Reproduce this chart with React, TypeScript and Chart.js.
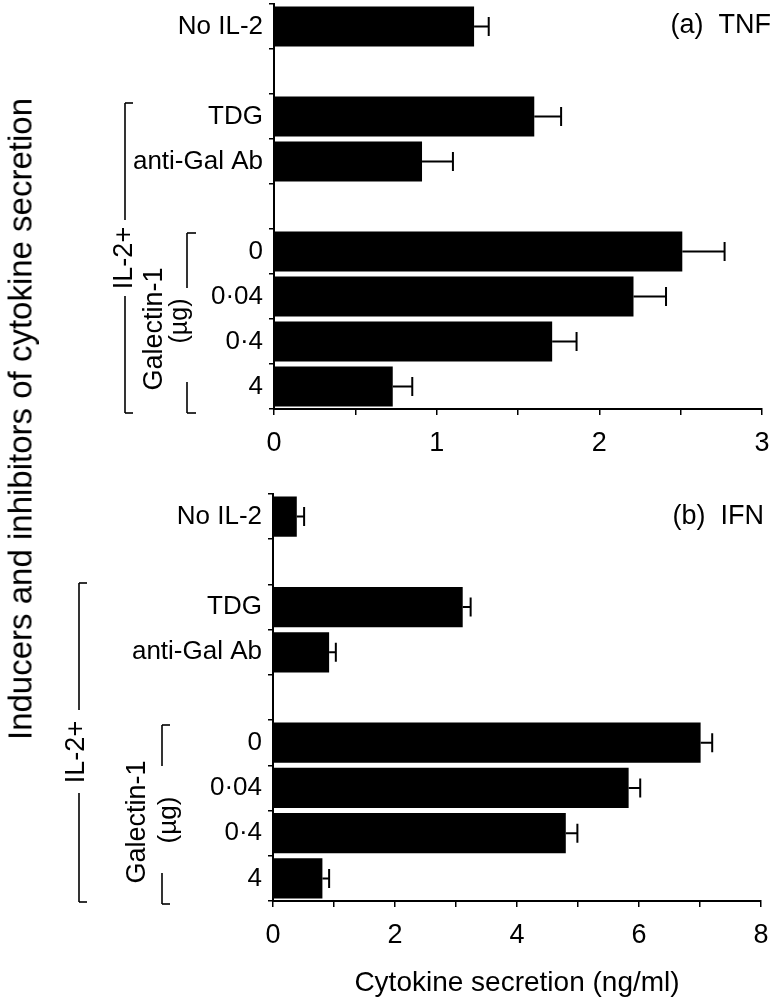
import React, { useEffect, useRef } from "react";
import { Chart, registerables } from "chart.js";

Chart.register(...registerables);

const FONT = "'Liberation Sans', Arial, Helvetica, sans-serif";

// ---- data ----
const categories = ["No IL-2", "", "TDG", "anti-Gal Ab", "", "0", "0·04", "0·4", "4"];
const tnfValues = [1.23, null, 1.6, 0.91, null, 2.51, 2.21, 1.71, 0.73];
const tnfErrors = [0.09, null, 0.165, 0.19, null, 0.26, 0.2, 0.15, 0.12];
const ifnValues = [0.39, null, 3.11, 0.92, null, 7.01, 5.83, 4.8, 0.81];
const ifnErrors = [0.12, null, 0.13, 0.11, null, 0.19, 0.19, 0.19, 0.11];
const tnfTickLabels = ["0", "1", "2", "3"];
const ifnTickLabels = ["0", "2", "4", "6", "8"];
const xAxisTitle = "Cytokine secretion (ng/ml)";
const yAxisTitle = "Inducers and inhibitors of cytokine secretion";

const errorBarPlugin = {
  id: "errorBars",
  afterDatasetsDraw(chart: any, _args: any, opts: any) {
    const ctx = chart.ctx;
    const xs = chart.scales.x;
    const ys = chart.scales.y;
    const vals = chart.data.datasets[0].data as (number | null)[];
    const errs = opts.errors as (number | null)[];
    ctx.save();
    ctx.strokeStyle = "#000";
    ctx.lineWidth = 2;
    vals.forEach((v, i) => {
      const e = errs[i];
      if (v == null || e == null) return;
      const x0 = xs.getPixelForValue(v);
      const x1 = xs.getPixelForValue(v + e);
      const yc = ys.getPixelForValue(i);
      ctx.beginPath();
      ctx.moveTo(x0, yc);
      ctx.lineTo(x1, yc);
      ctx.moveTo(x1, yc - 9.5);
      ctx.lineTo(x1, yc + 9.5);
      ctx.stroke();
    });
    ctx.restore();
  },
};

const annotationPlugin = {
  id: "annot",
  afterDraw(chart: any, _args: any, opts: any) {
    const ctx = chart.ctx;
    ctx.save();
    ctx.fillStyle = "#000";
    ctx.strokeStyle = "#000";
    // panel label
    const pl = opts.panelLabel;
    ctx.font = `27px ${FONT}`;
    ctx.textAlign = "right";
    ctx.textBaseline = "middle";
    ctx.fillText(pl.text, pl.x, pl.y);
    // bracket lines
    ctx.lineWidth = 1.6;
    (opts.lines as number[][]).forEach(([x1, y1, x2, y2]) => {
      ctx.beginPath();
      ctx.moveTo(x1, y1);
      ctx.lineTo(x2, y2);
      ctx.stroke();
    });
    // rotated texts
    (opts.texts as any[]).forEach((t) => {
      ctx.save();
      ctx.translate(t.x, t.y);
      ctx.rotate(-Math.PI / 2);
      ctx.font = `${t.size}px ${FONT}`;
      ctx.textAlign = "center";
      ctx.textBaseline = "middle";
      ctx.fillText(t.text, 0, 0);
      ctx.restore();
    });
    ctx.restore();
  },
};

function makeConfig(p: any) {
  return {
    type: "bar",
    data: {
      labels: categories,
      datasets: [
        {
          data: p.values,
          backgroundColor: "#000",
          borderWidth: 0,
          categoryPercentage: 1,
          barPercentage: 0.89,
        },
      ],
    },
    plugins: [errorBarPlugin, annotationPlugin],
    options: {
      indexAxis: "y",
      responsive: false,
      animation: false,
      devicePixelRatio: 1,
      layout: { padding: { top: p.padTop, right: p.padRight, left: 0, bottom: 0 } },
      plugins: {
        legend: { display: false },
        tooltip: { enabled: false },
        errorBars: { errors: p.errors },
        annot: { panelLabel: p.panelLabel, lines: p.lines, texts: p.texts },
      },
      scales: {
        x: {
          type: "linear",
          min: 0,
          max: p.max,
          ticks: {
            stepSize: p.step,
            autoSkip: false,
            maxRotation: 0,
            padding: 12,
            color: "#000",
            font: { family: FONT, size: 27 },
            callback: (v: number) => (p.tickLabels.includes(String(v)) ? String(v) : ""),
          },
          grid: {
            display: true,
            drawOnChartArea: false,
            drawTicks: true,
            tickLength: 6,
            color: "#000",
            lineWidth: 1.5,
          },
          border: { display: true, color: "#000", width: 2 },
          title: p.xTitle
            ? {
                display: true,
                text: p.xTitle,
                color: "#000",
                font: { family: FONT, size: 28 },
                padding: { top: 0, bottom: 4 },
              }
            : { display: false },
          afterFit: (s: any) => {
            s.height = p.xHeight;
            s.paddingLeft = 0;
            s.paddingRight = 0;
          },
        },
        y: {
          type: "category",
          offset: true,
          ticks: {
            autoSkip: false,
            padding: 6,
            color: "#000",
            font: { family: FONT, size: 26 },
          },
          grid: {
            display: true,
            offset: true,
            drawOnChartArea: false,
            drawTicks: true,
            tickLength: 5,
            color: "#000",
            lineWidth: 1.5,
          },
          border: { display: true, color: "#000", width: 2 },
          afterFit: (s: any) => {
            s.width = p.yWidth;
            s.paddingTop = 0;
            s.paddingBottom = 0;
          },
        },
      },
    },
  };
}

const panelA = {
  values: tnfValues,
  errors: tnfErrors,
  max: 3,
  step: 0.5,
  tickLabels: tnfTickLabels,
  padTop: 4,
  padRight: 18,
  xHeight: 51,
  yWidth: 274,
  xTitle: null,
  panelLabel: { text: "(a)  TNF", x: 771, y: 26 },
  lines: [
    [125, 103, 133, 103],
    [125, 103, 125, 220],
    [125, 296, 125, 413],
    [125, 413, 133, 413],
    [196, 233, 187, 233],
    [187, 233, 187, 288],
    [187, 382, 187, 413],
    [187, 413, 196, 413],
  ],
  texts: [
    { text: "IL-2+", x: 125, y: 258, size: 27 },
    { text: "Galectin-1", x: 155, y: 329, size: 27 },
    { text: "(µg)", x: 180, y: 321, size: 25 },
  ],
};

const panelB = {
  values: ifnValues,
  errors: ifnErrors,
  max: 8,
  step: 1,
  tickLabels: ifnTickLabels,
  padTop: 34,
  padRight: 19,
  xHeight: 103,
  yWidth: 273,
  xTitle: xAxisTitle,
  panelLabel: { text: "(b)  IFN", x: 764, y: 57 },
  lines: [
    [79, 123, 87, 123],
    [79, 123, 79, 250],
    [79, 333, 79, 442],
    [79, 442, 87, 442],
    [170, 265, 162, 265],
    [162, 265, 162, 306],
    [162, 413, 162, 444],
    [162, 444, 170, 444],
  ],
  texts: [
    { text: "IL-2+", x: 77, y: 292, size: 27 },
    { text: "Galectin-1", x: 138, y: 362, size: 27 },
    { text: "(µg)", x: 169, y: 360, size: 26 },
  ],
};

function Panel({ cfg, top, height }: { cfg: any; top: number; height: number }) {
  const ref = useRef<HTMLCanvasElement | null>(null);
  useEffect(() => {
    if (!ref.current) return;
    const chart = new Chart(ref.current, makeConfig(cfg) as any);
    return () => chart.destroy();
  }, [cfg]);
  return (
    <canvas
      ref={ref}
      width={780}
      height={height}
      style={{ position: "absolute", left: 0, top, width: 780, height, display: "block" }}
    />
  );
}

export default function App() {
  return (
    <div
      style={{
        position: "absolute",
        left: 0,
        top: 0,
        width: 780,
        height: 1004,
        background: "#fff",
        overflow: "hidden",
      }}
    >
      <Panel cfg={panelA} top={0} height={460} />
      <Panel cfg={panelB} top={460} height={544} />
      <div
        style={{
          position: "absolute",
          left: 20,
          top: 418.5,
          transform: "translate(-50%, -50%) rotate(-90deg)",
          whiteSpace: "nowrap",
          fontFamily: FONT,
          fontSize: 33,
          lineHeight: 1,
          color: "#000",
        }}
      >
        {yAxisTitle}
      </div>
    </div>
  );
}
